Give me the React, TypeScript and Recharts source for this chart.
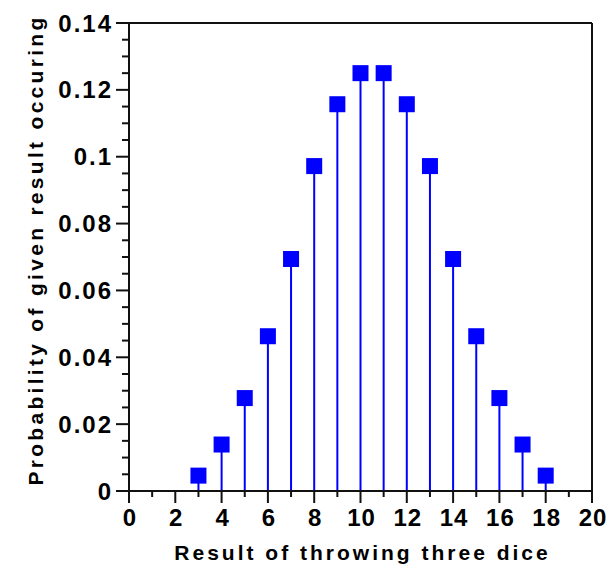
import React from 'react';
import { ScatterChart, Scatter, XAxis, YAxis, ErrorBar, ReferenceLine, Label } from 'recharts';

const diceSums = [3, 4, 5, 6, 7, 8, 9, 10, 11, 12, 13, 14, 15, 16, 17, 18];
const probabilities = [0.0046, 0.0139, 0.0278, 0.0463, 0.0694, 0.0972, 0.1157, 0.125, 0.125, 0.1157, 0.0972, 0.0694, 0.0463, 0.0278, 0.0139, 0.0046];

const xMajorTicks = [0, 2, 4, 6, 8, 10, 12, 14, 16, 18, 20];
const xMinorTicks = [1, 3, 5, 7, 9, 11, 13, 15, 17, 19];
const yMajorTicks = [0, 0.02, 0.04, 0.06, 0.08, 0.1, 0.12, 0.14];
const yTickLabels = ['0', '0.02', '0.04', '0.06', '0.08', '0.1', '0.12', '0.14'];
const yMinorTicks = [0.005, 0.01, 0.015, 0.025, 0.03, 0.035, 0.045, 0.05, 0.055, 0.065, 0.07, 0.075, 0.085, 0.09, 0.095, 0.105, 0.11, 0.115, 0.125, 0.13, 0.135];

const xTitle = 'Result of throwing three dice';
const yTitle = 'Probability of given result occuring';

const data = diceSums.map((s, i) => ({ sum: s, p: probabilities[i], stem: [probabilities[i], 0] }));

const FONT = '"Liberation Sans", Arial, Helvetica, sans-serif';
const AXIS = '#111';
const BLUE = '#0000ff';

const allX = [...xMajorTicks, ...xMinorTicks].sort((a, b) => a - b);
const allY = [...yMajorTicks, ...yMinorTicks].sort((a, b) => a - b);

const XTick = (props: any) => {
  const { x, y, payload } = props;
  const v = payload.value;
  const major = xMajorTicks.indexOf(v) >= 0;
  return (
    <g>
      <line x1={x} x2={x} y1={y} y2={y + (major ? 12 : 6)} stroke={AXIS} strokeWidth={2} />
      {major && (
        <text x={x + 1} y={y + 26} dy="0.36em" textAnchor="middle" fontFamily={FONT} fontWeight="bold" fontSize={24} letterSpacing={1} fill="#000">
          {String(v)}
        </text>
      )}
    </g>
  );
};

const YTick = (props: any) => {
  const { x, y, payload } = props;
  const v = payload.value;
  let idx = -1;
  yMajorTicks.forEach((t, i) => { if (Math.abs(t - v) < 1e-9) idx = i; });
  const major = idx >= 0;
  return (
    <g>
      <line x1={x - (major ? 13 : 7)} x2={x} y1={y} y2={y} stroke={AXIS} strokeWidth={2} />
      {major && (
        <text x={x - 16} y={y} dy="0.36em" textAnchor="end" fontFamily={FONT} fontWeight="bold" fontSize={24} letterSpacing={2} fill="#000">
          {yTickLabels[idx]}
        </text>
      )}
    </g>
  );
};

const SquareDot = (props: any) => {
  const { cx, cy } = props;
  return <rect x={cx - 8} y={cy - 8} width={16} height={16} fill={BLUE} />;
};

export default function App() {
  return (
    <ScatterChart width={607} height={560} margin={{ top: 15, right: 23, bottom: 0, left: 0 }}>
      <XAxis
        type="number"
        dataKey="sum"
        domain={[0, 20]}
        ticks={allX}
        interval={0}
        tick={<XTick />}
        tickSize={0}
        tickMargin={0}
        tickLine={false}
        axisLine={{ stroke: AXIS, strokeWidth: 2 }}
        height={77}
        allowDataOverflow
      >
        <Label
          content={(p: any) => {
            const vb = p.viewBox;
            return (
              <text x={vb.x + vb.width / 2 + 2} y={vb.y + 69} textAnchor="middle" fontFamily={FONT} fontWeight="bold" fontSize={21} letterSpacing={3} fill="#000">
                {xTitle}
              </text>
            );
          }}
        />
      </XAxis>
      <YAxis
        type="number"
        dataKey="p"
        domain={[0, 0.14]}
        ticks={allY}
        interval={0}
        tick={<YTick />}
        tickSize={0}
        tickMargin={0}
        tickLine={false}
        axisLine={{ stroke: AXIS, strokeWidth: 2 }}
        width={121}
        allowDataOverflow
      >
        <Label
          content={(p: any) => {
            const vb = p.viewBox;
            const cy = vb.y + vb.height / 2 - 7;
            return (
              <text x={35} y={cy} transform={`rotate(-90 35 ${cy})`} textAnchor="middle" fontFamily={FONT} fontWeight="bold" fontSize={21} letterSpacing={3.3} fill="#000">
                {yTitle}
              </text>
            );
          }}
        />
      </YAxis>
      <ReferenceLine y={0.14} stroke={AXIS} strokeWidth={2} ifOverflow="extendDomain" />
      <ReferenceLine x={20} stroke={AXIS} strokeWidth={2} ifOverflow="extendDomain" />
      <Scatter data={data} dataKey="p" shape={<SquareDot />} isAnimationActive={false}>
        <ErrorBar dataKey="stem" direction="y" width={0} stroke={BLUE} strokeWidth={2} />
      </Scatter>
    </ScatterChart>
  );
}
